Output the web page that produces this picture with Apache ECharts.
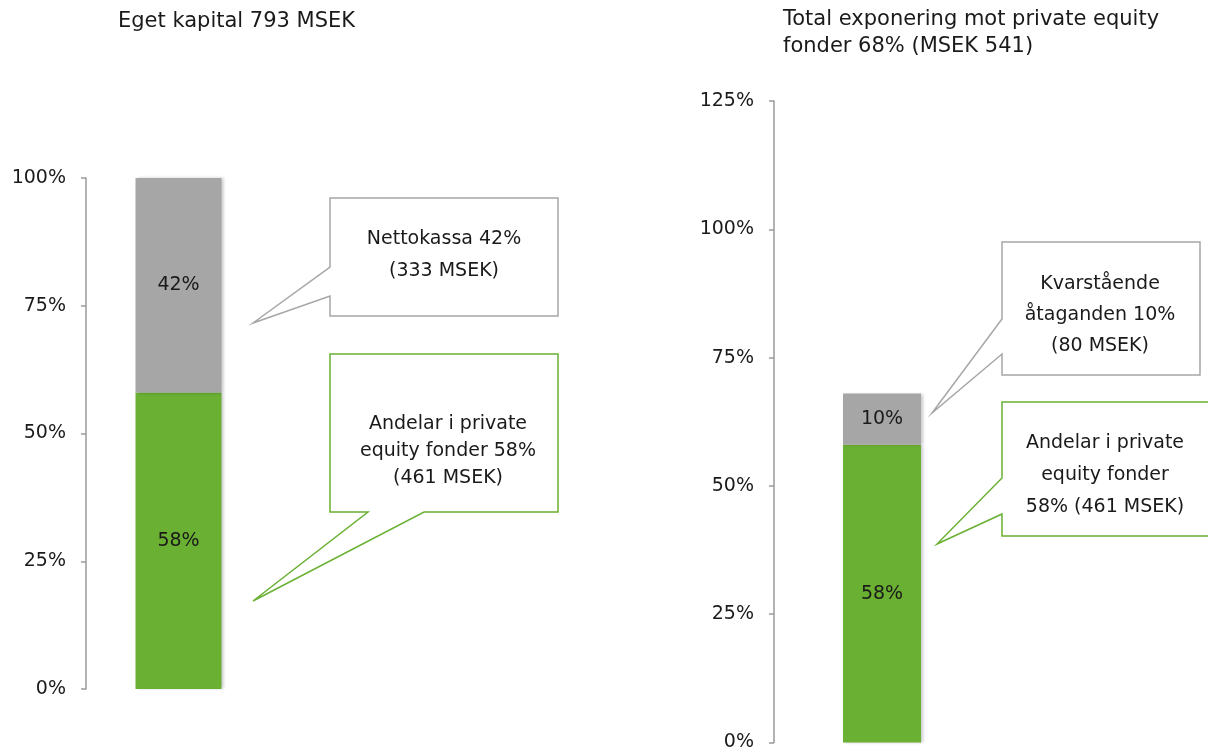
<!DOCTYPE html>
<html>
<head>
<meta charset="utf-8">
<script src="https://cdn.jsdelivr.net/npm/echarts@6/dist/echarts.min.js"></script>
<style>
html,body{margin:0;padding:0;background:#fff;}
#chart{width:1208px;height:752px;}
</style>
</head>
<body>
<div id="chart"></div>
<script>
// ---- data ----
const categories = [''];
const leftTitle = 'Eget kapital 793 MSEK';
const rightTitle = 'Total exponering mot private equity\nfonder 68% (MSEK 541)';
const leftPE = [58];      // Andelar i private equity fonder
const leftCash = [42];    // Nettokassa
const rightPE = [58];     // Andelar i private equity fonder
const rightCommit = [10]; // Kvarstående åtaganden
const leftAxisMax = 100;
const rightAxisMax = 125;
const axisInterval = 25;
const calloutTexts = {
  cash: 'Nettokassa 42%\n(333 MSEK)',
  leftPE: 'Andelar i private\nequity fonder 58%\n(461 MSEK)',
  commit: 'Kvarstående\nåtaganden 10%\n(80 MSEK)',
  rightPE: 'Andelar i private\nequity fonder\n58% (461 MSEK)'
};

const GREEN = '#6AB033';
const GRAY = '#A6A6A6';
const FONT = 'DejaVu Sans';
const FS = 19;

const chart = echarts.init(document.getElementById('chart'));

function yAxis(gridIndex, max) {
  return {
    type: 'value', gridIndex, min: 0, max, interval: axisInterval,
    axisLine: {show: true, lineStyle: {color: '#9a9a9a', width: 1.5}},
    axisTick: {show: true, length: 5, lineStyle: {color: '#9a9a9a', width: 1.5}},
    splitLine: {show: false},
    axisLabel: {formatter: '{value}%', color: '#1a1a1a', fontFamily: FONT, fontSize: FS, margin: 20}
  };
}
function xAxis(gridIndex) {
  return {
    type: 'category', gridIndex, data: categories,
    axisLine: {show: false}, axisTick: {show: false}, axisLabel: {show: false}
  };
}
const barShadow = {shadowBlur: 3, shadowOffsetX: 2, shadowOffsetY: 0, shadowColor: 'rgba(0,0,0,0.22)'};
function bar(name, data, color, xi, stack, w) {
  return {
    name, type: 'bar', data, xAxisIndex: xi, yAxisIndex: xi, stack, barWidth: w,
    itemStyle: Object.assign({color}, barShadow),
    label: {show: true, position: 'inside', formatter: '{c}%', color: '#1a1a1a', fontFamily: FONT, fontSize: FS}
  };
}

function callout(points, cx, cy, text, color, lh) {
  return [
    {type: 'polygon', shape: {points}, style: {fill: '#fff', stroke: color, lineWidth: 1.5}, z: 10},
    {type: 'text', x: cx, y: cy, z: 11,
     style: {text, fill: '#1a1a1a', font: FS + 'px "' + FONT + '"', align: 'center', verticalAlign: 'middle', lineHeight: lh}}
  ];
}

const graphics = [
  {type: 'text', x: 118, y: 22, style: {text: leftTitle, fill: '#1a1a1a', font: '21px "' + FONT + '"', verticalAlign: 'middle'}},
  {type: 'text', x: 783, y: 33, style: {text: rightTitle, fill: '#1a1a1a', font: '21px "' + FONT + '"', lineHeight: 27, verticalAlign: 'middle'}},
  ...callout([[330,198],[558,198],[558,316],[330,316],[330,296],[253,323],[330,267]], 444, 255, calloutTexts.cash, GRAY, 32),
  ...callout([[330,354],[558,354],[558,512],[424,512],[253,601],[368,512],[330,512]], 448, 451, calloutTexts.leftPE, GREEN, 27),
  ...callout([[1002,242],[1200,242],[1200,375],[1002,375],[1002,354],[932,413],[1002,319]], 1100, 315, calloutTexts.commit, GRAY, 31),
  ...callout([[1002,402],[1212,402],[1212,536],[1002,536],[1002,514],[937,544],[1002,478]], 1105, 475, calloutTexts.rightPE, GREEN, 32)
];

chart.setOption({
  backgroundColor: '#fff',
  animation: false,
  grid: [
    {left: 86, top: 178, width: 185, height: 511},
    {left: 774, top: 101, width: 216, height: 644}
  ],
  xAxis: [xAxis(0), xAxis(1)],
  yAxis: [yAxis(0, leftAxisMax), yAxis(1, rightAxisMax)],
  series: [
    bar('Andelar i private equity fonder', leftPE, GREEN, 0, 'L', 86),
    bar('Nettokassa', leftCash, GRAY, 0, 'L', 86),
    bar('Andelar i private equity fonder', rightPE, GREEN, 1, 'R', 78),
    bar('Kvarstående åtaganden', rightCommit, GRAY, 1, 'R', 78)
  ],
  graphic: graphics
});
</script>
</body>
</html>
